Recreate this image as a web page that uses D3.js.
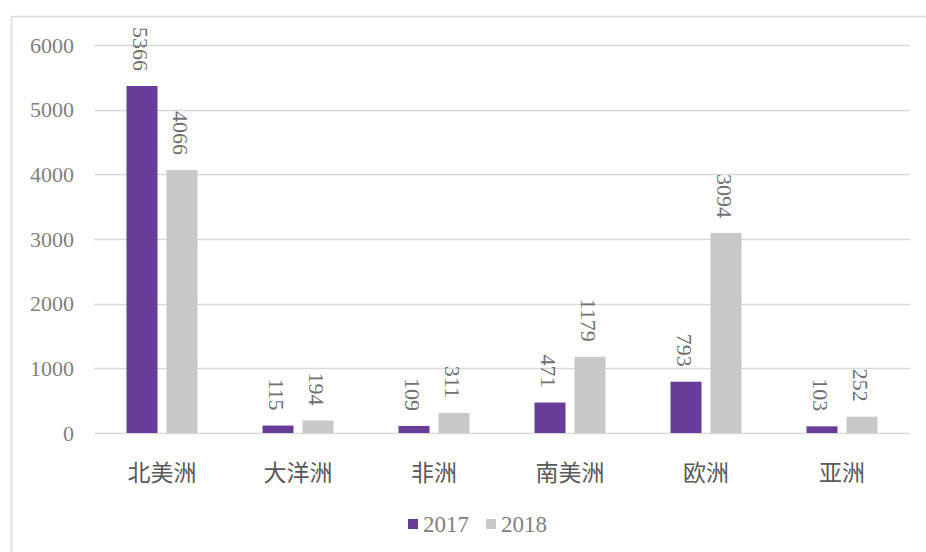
<!DOCTYPE html>
<html><head><meta charset="utf-8">
<script src="https://cdn.jsdelivr.net/npm/d3@7"></script>
<style>body{margin:0;background:#fff}svg{display:block}</style>
</head><body><svg id="c" width="926" height="552"></svg>
<script>
const categories = ["北美洲","大洋洲","非洲","南美洲","欧洲","亚洲"];
const series2017 = [5366,115,109,471,793,103];
const series2018 = [4066,194,311,1179,3094,252];
const seriesNames = ["2017","2018"];
const yTicks = [0,1000,2000,3000,4000,5000,6000];
const colors = ["#673d99","#c7c8c9"];

const svg = d3.select("#c");
// outer frame
svg.append("line").attr("x1",11.5).attr("x2",11.5).attr("y1",16).attr("y2",552).attr("stroke","#d9d9d9").attr("stroke-width",1.5);
svg.append("line").attr("x1",11).attr("x2",926).attr("y1",16.5).attr("y2",16.5).attr("stroke","#d9d9d9").attr("stroke-width",1.5);

const x0 = d3.scaleBand().domain(categories).range([94,910]);
const y = d3.scaleLinear().domain([0,6000]).range([433,45]);

// grid
svg.append("g").selectAll("line").data(yTicks).join("line")
  .attr("x1",94).attr("x2",910).attr("y1",d=>Math.round(y(d))+0.5).attr("y2",d=>Math.round(y(d))+0.5)
  .attr("stroke","#d9d9d9").attr("stroke-width",1.5);

// y axis labels
const yAxis = d3.axisLeft(y).tickValues(yTicks).tickFormat(d3.format("d")).tickSize(0).tickPadding(0);
const gy = svg.append("g").attr("transform","translate(74,0)").call(yAxis);
gy.select(".domain").remove();
gy.selectAll("text").attr("font-family","Liberation Serif, serif").attr("font-size",22).attr("fill","#808080");

const data = categories.map((c,i)=>({cat:c, vals:[series2017[i],series2018[i]]}));
const barW = 31, off = 20;
const groups = svg.append("g").selectAll("g").data(data).join("g");
[0,1].forEach(s=>{
  groups.append("rect")
    .attr("x",d=>x0(d.cat)+x0.bandwidth()/2+(s===0?-off:off)-barW/2)
    .attr("y",d=>y(d.vals[s]))
    .attr("width",barW)
    .attr("height",d=>y(0)-y(d.vals[s]))
    .attr("fill",colors[s]);
  groups.append("text")
    .attr("transform",d=>`translate(${x0(d.cat)+x0.bandwidth()/2+(s===0?-off:off)-2},${y(d.vals[s])-15}) rotate(90)`)
    .attr("text-anchor","end").attr("dominant-baseline","central")
    .attr("font-family","Liberation Serif, serif").attr("font-size",22).attr("fill","#707070")
    .text(d=>d.vals[s]);
});

// category labels
const xAxis = d3.axisBottom(x0).tickSize(0).tickPadding(0);
const gx = svg.append("g").attr("transform","translate(0,473)").call(xAxis);
gx.select(".domain").remove();
gx.selectAll("text").attr("font-family","Noto Sans CJK SC, sans-serif").attr("font-size",23).attr("fill","#595959").attr("dy","0.35em").attr("y",0);

// legend
const leg = svg.append("g");
const legX = [408,486];
seriesNames.forEach((n,i)=>{
  leg.append("rect").attr("x",legX[i]).attr("y",519).attr("width",10).attr("height",10).attr("fill",colors[i]);
  leg.append("text").attr("x",legX[i]+15).attr("y",524).attr("dominant-baseline","central")
    .attr("font-family","Liberation Serif, serif").attr("font-size",23).attr("fill","#808080").text(n);
});
</script></body></html>
